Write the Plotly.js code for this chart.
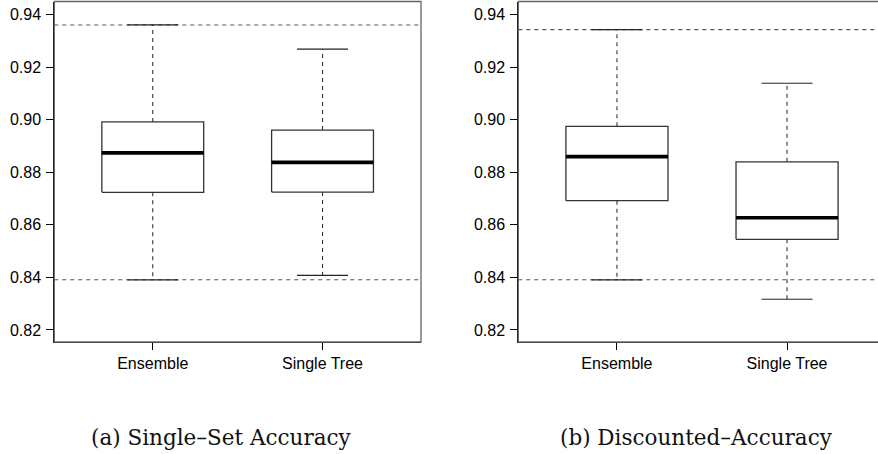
<!DOCTYPE html>
<html>
<head>
<meta charset="utf-8">
<script src="https://cdn.plot.ly/plotly-3.0.1.min.js"></script>
<style>
  html, body { margin: 0; padding: 0; overflow: hidden; background: #fff; }
  #chart { width: 886px; height: 454px; }
</style>
</head>
<body>
<div id="chart"></div>
<script>
// ---- data ----
const categories = ['Ensemble', 'Single Tree'];
const yTickVals = [0.82, 0.84, 0.86, 0.88, 0.90, 0.92, 0.94];
const yTickText = ['0.82', '0.84', '0.86', '0.88', '0.90', '0.92', '0.94'];

// (a) Single–Set Accuracy
const singleSetMin    = [0.8391, 0.8408];
const singleSetQ1     = [0.8724, 0.8725];
const singleSetMedian = [0.8874, 0.8838];
const singleSetQ3     = [0.8992, 0.8961];
const singleSetMax    = [0.9361, 0.9269];

// (b) Discounted–Accuracy
const discountedMin    = [0.8391, 0.8317];
const discountedQ1     = [0.8692, 0.8545];
const discountedMedian = [0.8860, 0.8627];
const discountedQ3     = [0.8975, 0.8840];
const discountedMax    = [0.9343, 0.9139];

const captions = ['(a) Single\u2013Set Accuracy', '(b) Discounted\u2013Accuracy'];

// ---- drawing ----
const HW = 0.30;   // box half width (category units)
const CW = 0.15;   // cap half width
const panels = [
  {xa: 'x',  ya: 'y',  mn: singleSetMin, q1: singleSetQ1, md: singleSetMedian, q3: singleSetQ3, mx: singleSetMax},
  {xa: 'x2', ya: 'y2', mn: discountedMin, q1: discountedQ1, md: discountedMedian, q3: discountedQ3, mx: discountedMax}
];

const traces = [];
const shapes = [];
panels.forEach(p => {
  categories.forEach((c, i) => {
    traces.push({
      type: 'scatter', mode: 'lines', xaxis: p.xa, yaxis: p.ya, hoverinfo: 'skip', showlegend: false,
      x: [i, i, null, i, i], y: [p.q3[i], p.mx[i], null, p.q1[i], p.mn[i]],
      line: {color: '#333', width: 1.1, dash: '4px,4px'}
    });
    traces.push({
      type: 'scatter', mode: 'lines', xaxis: p.xa, yaxis: p.ya, hoverinfo: 'skip', showlegend: false,
      x: [i - CW, i + CW, null, i - CW, i + CW], y: [p.mx[i], p.mx[i], null, p.mn[i], p.mn[i]],
      line: {color: '#222', width: 1.2}
    });
    traces.push({
      type: 'scatter', mode: 'lines', xaxis: p.xa, yaxis: p.ya, hoverinfo: 'skip', showlegend: false,
      x: [i - HW, i + HW, i + HW, i - HW, i - HW], y: [p.q1[i], p.q1[i], p.q3[i], p.q3[i], p.q1[i]],
      fill: 'toself', fillcolor: '#fff',
      line: {color: '#333', width: 1.3}
    });
    traces.push({
      type: 'scatter', mode: 'lines', xaxis: p.xa, yaxis: p.ya, hoverinfo: 'skip', showlegend: false,
      x: [i - HW, i + HW], y: [p.md[i], p.md[i]],
      line: {color: '#000', width: 3.6}
    });
  });
  [p.mx[0], p.mn[0]].forEach(v => {
    shapes.push({type: 'line', xref: p.xa + ' domain', yref: p.ya, x0: 0, x1: 1, y0: v, y1: v,
      line: {color: '#555', width: 1.1, dash: '4px,4px'}, layer: 'below'});
  });
  shapes.push({type: 'rect', xref: p.xa + ' domain', yref: p.ya + ' domain', x0: 0, x1: 1, y0: 0, y1: 1,
    line: {color: '#666', width: 1.3}, layer: 'above'});
});

const W = 886, H = 454;
const yDomain = [1 - 342 / H, 1 - 1.5 / H];
const yRange = [0.81543, 0.94502];
const xRange = [-0.58, 1.58];
const font = {family: 'Liberation Sans, Arial, sans-serif', size: 16, color: '#000'};

function xAxis(dom, anchor) {
  return {domain: dom, anchor: anchor, range: xRange, showgrid: false, zeroline: false,
    tickmode: 'array', tickvals: [0, 1], ticktext: categories, ticks: 'outside', ticklen: 7,
    tickcolor: '#000', tickwidth: 1, showline: true, linecolor: '#000', linewidth: 1,
    tickfont: font, fixedrange: true};
}
function yAxis(anchor) {
  return {domain: yDomain, anchor: anchor, range: yRange, showgrid: false, zeroline: false,
    tickmode: 'array', tickvals: yTickVals, ticktext: yTickText, ticks: 'outside', ticklen: 7,
    tickcolor: '#000', tickwidth: 1, showline: true, linecolor: '#000', linewidth: 1,
    ticklabelstandoff: 2, tickfont: font, fixedrange: true};
}

const capFont = {family: 'DejaVu Serif, serif', size: 21.5, color: '#111'};
const layout = {
  width: W, height: H,
  margin: {l: 0, r: 0, t: 0, b: 0, pad: 0},
  paper_bgcolor: '#fff', plot_bgcolor: '#fff',
  showlegend: false,
  xaxis: xAxis([54.3 / W, 421 / W], 'y'),
  yaxis: yAxis('x'),
  xaxis2: xAxis([518.3 / W, 885.7 / W], 'y2'),
  yaxis2: yAxis('x2'),
  shapes: shapes,
  annotations: [
    {text: captions[0], xref: 'paper', yref: 'paper', x: 221 / W, y: 1 - 437 / H,
      xanchor: 'center', yanchor: 'middle', showarrow: false, font: capFont},
    {text: captions[1], xref: 'paper', yref: 'paper', x: 696 / W, y: 1 - 437 / H,
      xanchor: 'center', yanchor: 'middle', showarrow: false, font: capFont}
  ]
};

Plotly.newPlot('chart', traces, layout, {staticPlot: true, displayModeBar: false});
</script>
</body>
</html>
